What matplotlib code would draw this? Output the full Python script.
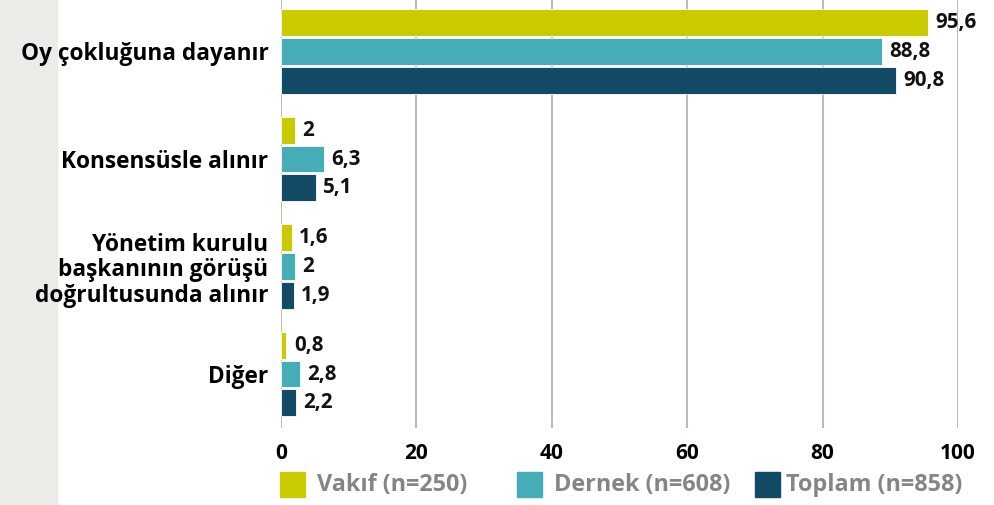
import matplotlib
matplotlib.use("Agg")
import matplotlib.pyplot as plt
from matplotlib.patches import Rectangle
import numpy as np

categories = ["Oy çokluğuna dayanır", "Konsensüsle alınır",
              "Yönetim kurulu\nbaşkanının görüşü\ndoğrultusunda alınır", "Diğer"]
series_names = ["Vakıf (n=250)", "Dernek (n=608)", "Toplam (n=858)"]
vakif = [95.6, 2, 1.6, 0.8]
dernek = [88.8, 6.3, 2, 2.8]
toplam = [90.8, 5.1, 1.9, 2.2]
colors = ["#CACA00", "#46ADB8", "#134A66"]
xticks = [0, 20, 40, 60, 80, 100]

FONT = ["Open Sans", "DejaVu Sans"]
plt.rcParams["font.family"] = FONT

W, H = 995, 505
fig = plt.figure(figsize=(W / 100, H / 100), dpi=100)
fig.patches.append(Rectangle((0, 0), 57 / W, 1, transform=fig.transFigure,
                             color="#ECEBE7", zorder=-10))
ax = fig.add_axes([281 / W, 1 - 428 / H, (958 - 281) / W, 428 / H])
ax.set_facecolor("none")

y = np.arange(len(categories))
pitch = 0.267
h = 0.248
for i, (vals, c) in enumerate(zip([vakif, dernek, toplam], colors)):
    pos = y + (i - 1) * pitch
    ax.barh(pos, vals, height=h, color=c, edgecolor="white", linewidth=0.6, zorder=3)
    for p, v in zip(pos, vals):
        s = f"{v:g}".replace(".", ",")
        ax.text(v + 1.1, p, s, va="center", ha="left", fontsize=14.8,
                fontweight="bold", color="#111111", zorder=4)

ax.set_xlim(0, 100)
ax.set_ylim(3.502, -0.479)
ax.set_xticks(xticks)
ax.set_xticklabels([str(t) for t in xticks], fontsize=15, fontweight="bold")
ax.tick_params(axis="x", length=0, pad=11)
ax.set_yticks(y)
ax.set_yticklabels(categories, fontsize=16.3, fontweight="bold", linespacing=1.1)
ax.tick_params(axis="y", length=0, pad=9)
for lab in ax.get_yticklabels():
    lab.set_horizontalalignment("right")
    lab.set_multialignment("right")
ax.grid(axis="x", color="#ADA49B", linewidth=1.1, zorder=0)
for sp in ax.spines.values():
    sp.set_visible(False)

# legend (fixed item slots as in the reference)
leg_box_x = [280, 517, 755]
leg_text_x = [317, 554, 786]
for bx, tx, c, name in zip(leg_box_x, leg_text_x, colors, series_names):
    fig.patches.append(Rectangle((bx / W, 1 - 497 / H), 25 / W, 25 / H,
                                 transform=fig.transFigure, color=c))
    fig.text(tx / W, 1 - 485 / H, name, ha="left", va="center",
             fontsize=16.8, fontweight="bold", color="#858585")

fig.savefig("out.png", dpi=100)
